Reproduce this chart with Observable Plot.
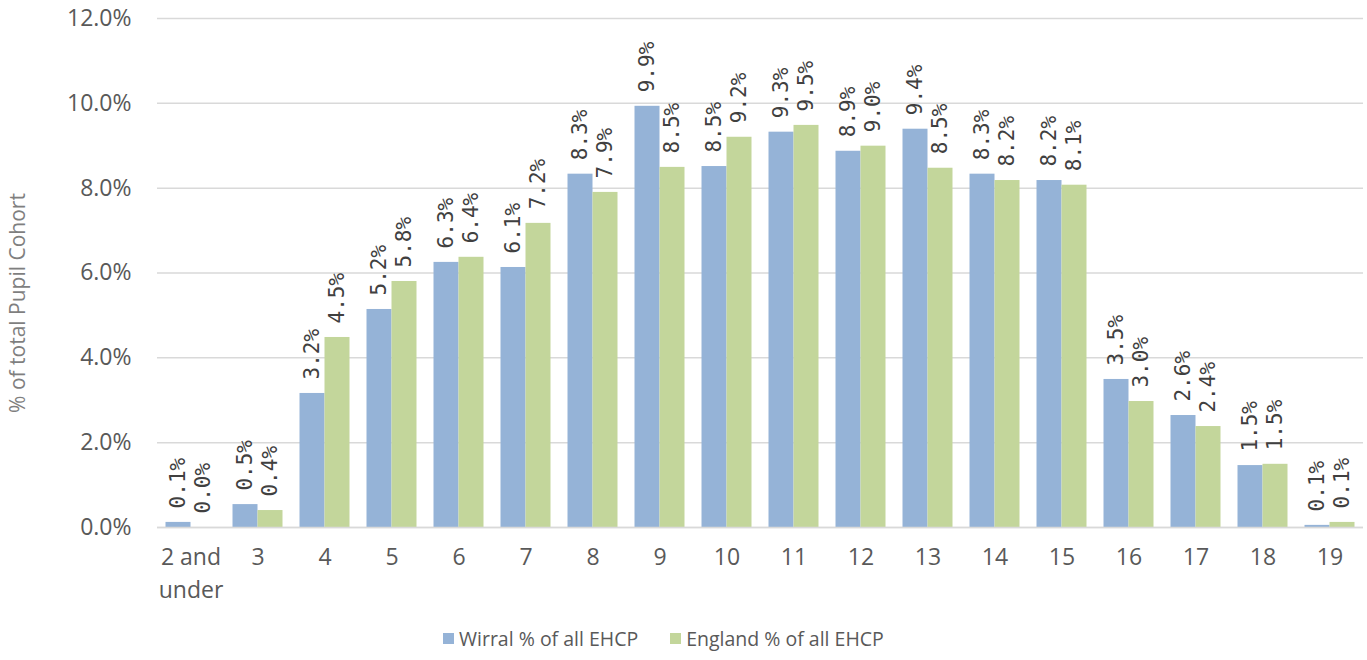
<!DOCTYPE html>
<html>
<head>
<meta charset="utf-8">
<script src="https://cdn.jsdelivr.net/npm/d3@7"></script>
<script src="https://cdn.jsdelivr.net/npm/@observablehq/plot@0.6"></script>
<style>
  html, body { margin: 0; padding: 0; background: #fff; }
  #chart { position: relative; width: 1367px; height: 660px; }
  #legend { position: absolute; left: 443px; top: 625px; font: 19.5px "Open Sans", sans-serif; color: #595959; display: flex; gap: 32px; align-items: center; }
  .item { display: flex; align-items: center; gap: 5px; }
  .sw { width: 11px; height: 11px; display: inline-block; }
</style>
</head>
<body>
<div id="chart"></div>
<script>
const categories = ["2 and\nunder","3","4","5","6","7","8","9","10","11","12","13","14","15","16","17","18","19"];
const wirral = [0.0012,0.0054,0.0316,0.0514,0.0625,0.0613,0.0833,0.0993,0.0851,0.0932,0.0887,0.0939,0.0833,0.0818,0.0349,0.0264,0.0146,0.0005];
const england = [0.0000,0.0040,0.0448,0.0580,0.0637,0.0717,0.0790,0.0849,0.0920,0.0948,0.0899,0.0847,0.0818,0.0807,0.0297,0.0238,0.0149,0.0012];
const wirralLabels = ["0.1%","0.5%","3.2%","5.2%","6.3%","6.1%","8.3%","9.9%","8.5%","9.3%","8.9%","9.4%","8.3%","8.2%","3.5%","2.6%","1.5%","0.1%"];
const englandLabels = ["0.0%","0.4%","4.5%","5.8%","6.4%","7.2%","7.9%","8.5%","9.2%","9.5%","9.0%","8.5%","8.2%","8.1%","3.0%","2.4%","1.5%","0.1%"];
const yTicks = [0, 0.02, 0.04, 0.06, 0.08, 0.10, 0.12];
const seriesNames = ["Wirral % of all EHCP", "England % of all EHCP"];
const colors = ["#95b3d7", "#c3d69b"];

const wData = categories.map((c, i) => ({cat: c, value: wirral[i], label: wirralLabels[i]}));
const eData = categories.map((c, i) => ({cat: c, value: england[i], label: englandLabels[i]}));

const labelFont = {fontFamily: "DejaVu Sans Mono", fontSize: 21, fill: "#404040"};

const chart = Plot.plot({
  width: 1367,
  height: 615,
  marginLeft: 157,
  marginRight: 4,
  marginTop: 18,
  marginBottom: 88,
  style: {fontFamily: "Open Sans", fontSize: "23px", color: "#595959", background: "#fff"},
  x: {domain: categories, paddingInner: 0.627, paddingOuter: 0.3135, label: null},
  y: {domain: [0, 0.12], label: null},
  marks: [
    Plot.gridY(yTicks, {stroke: "#d9d9d9", strokeOpacity: 1, strokeWidth: 1.5}),
    Plot.axisY(yTicks, {tickFormat: d3.format(".1%"), tickSize: 0, tickPadding: 26, label: null, fill: "#595959", fontSize: 23}),
    Plot.axisX({tickSize: 0, tickPadding: 14, lineHeight: 1.43, fill: "#595959", fontSize: 23}),
    Plot.barY(wData, {x: "cat", y: "value", fill: colors[0], dx: -12.5}),
    Plot.barY(eData, {x: "cat", y: "value", fill: colors[1], dx: 12.5}),
    Plot.ruleY([0], {stroke: "#d9d9d9", strokeWidth: 1.5}),
    Plot.text(wData, {x: "cat", y: "value", text: "label", rotate: -90, textAnchor: "start", dx: -12.5, dy: -14, ...labelFont}),
    Plot.text(eData, {x: "cat", y: "value", text: "label", rotate: -90, textAnchor: "start", dx: 12.5, dy: -14, ...labelFont}),
    Plot.text(["% of total Pupil Cohort"], {frameAnchor: "left", textAnchor: "middle", dx: -139, dy: 30, rotate: -90, fontFamily: "Open Sans", fontSize: 21, fill: "#7f7f7f"})
  ]
});
document.getElementById("chart").appendChild(chart);

const legend = document.createElement("div");
legend.id = "legend";
seriesNames.forEach((n, i) => {
  const it = document.createElement("span");
  it.className = "item";
  const sw = document.createElement("span");
  sw.className = "sw";
  sw.style.background = colors[i];
  it.appendChild(sw);
  it.appendChild(document.createTextNode(n));
  legend.appendChild(it);
});
document.getElementById("chart").appendChild(legend);
</script>
</body>
</html>
